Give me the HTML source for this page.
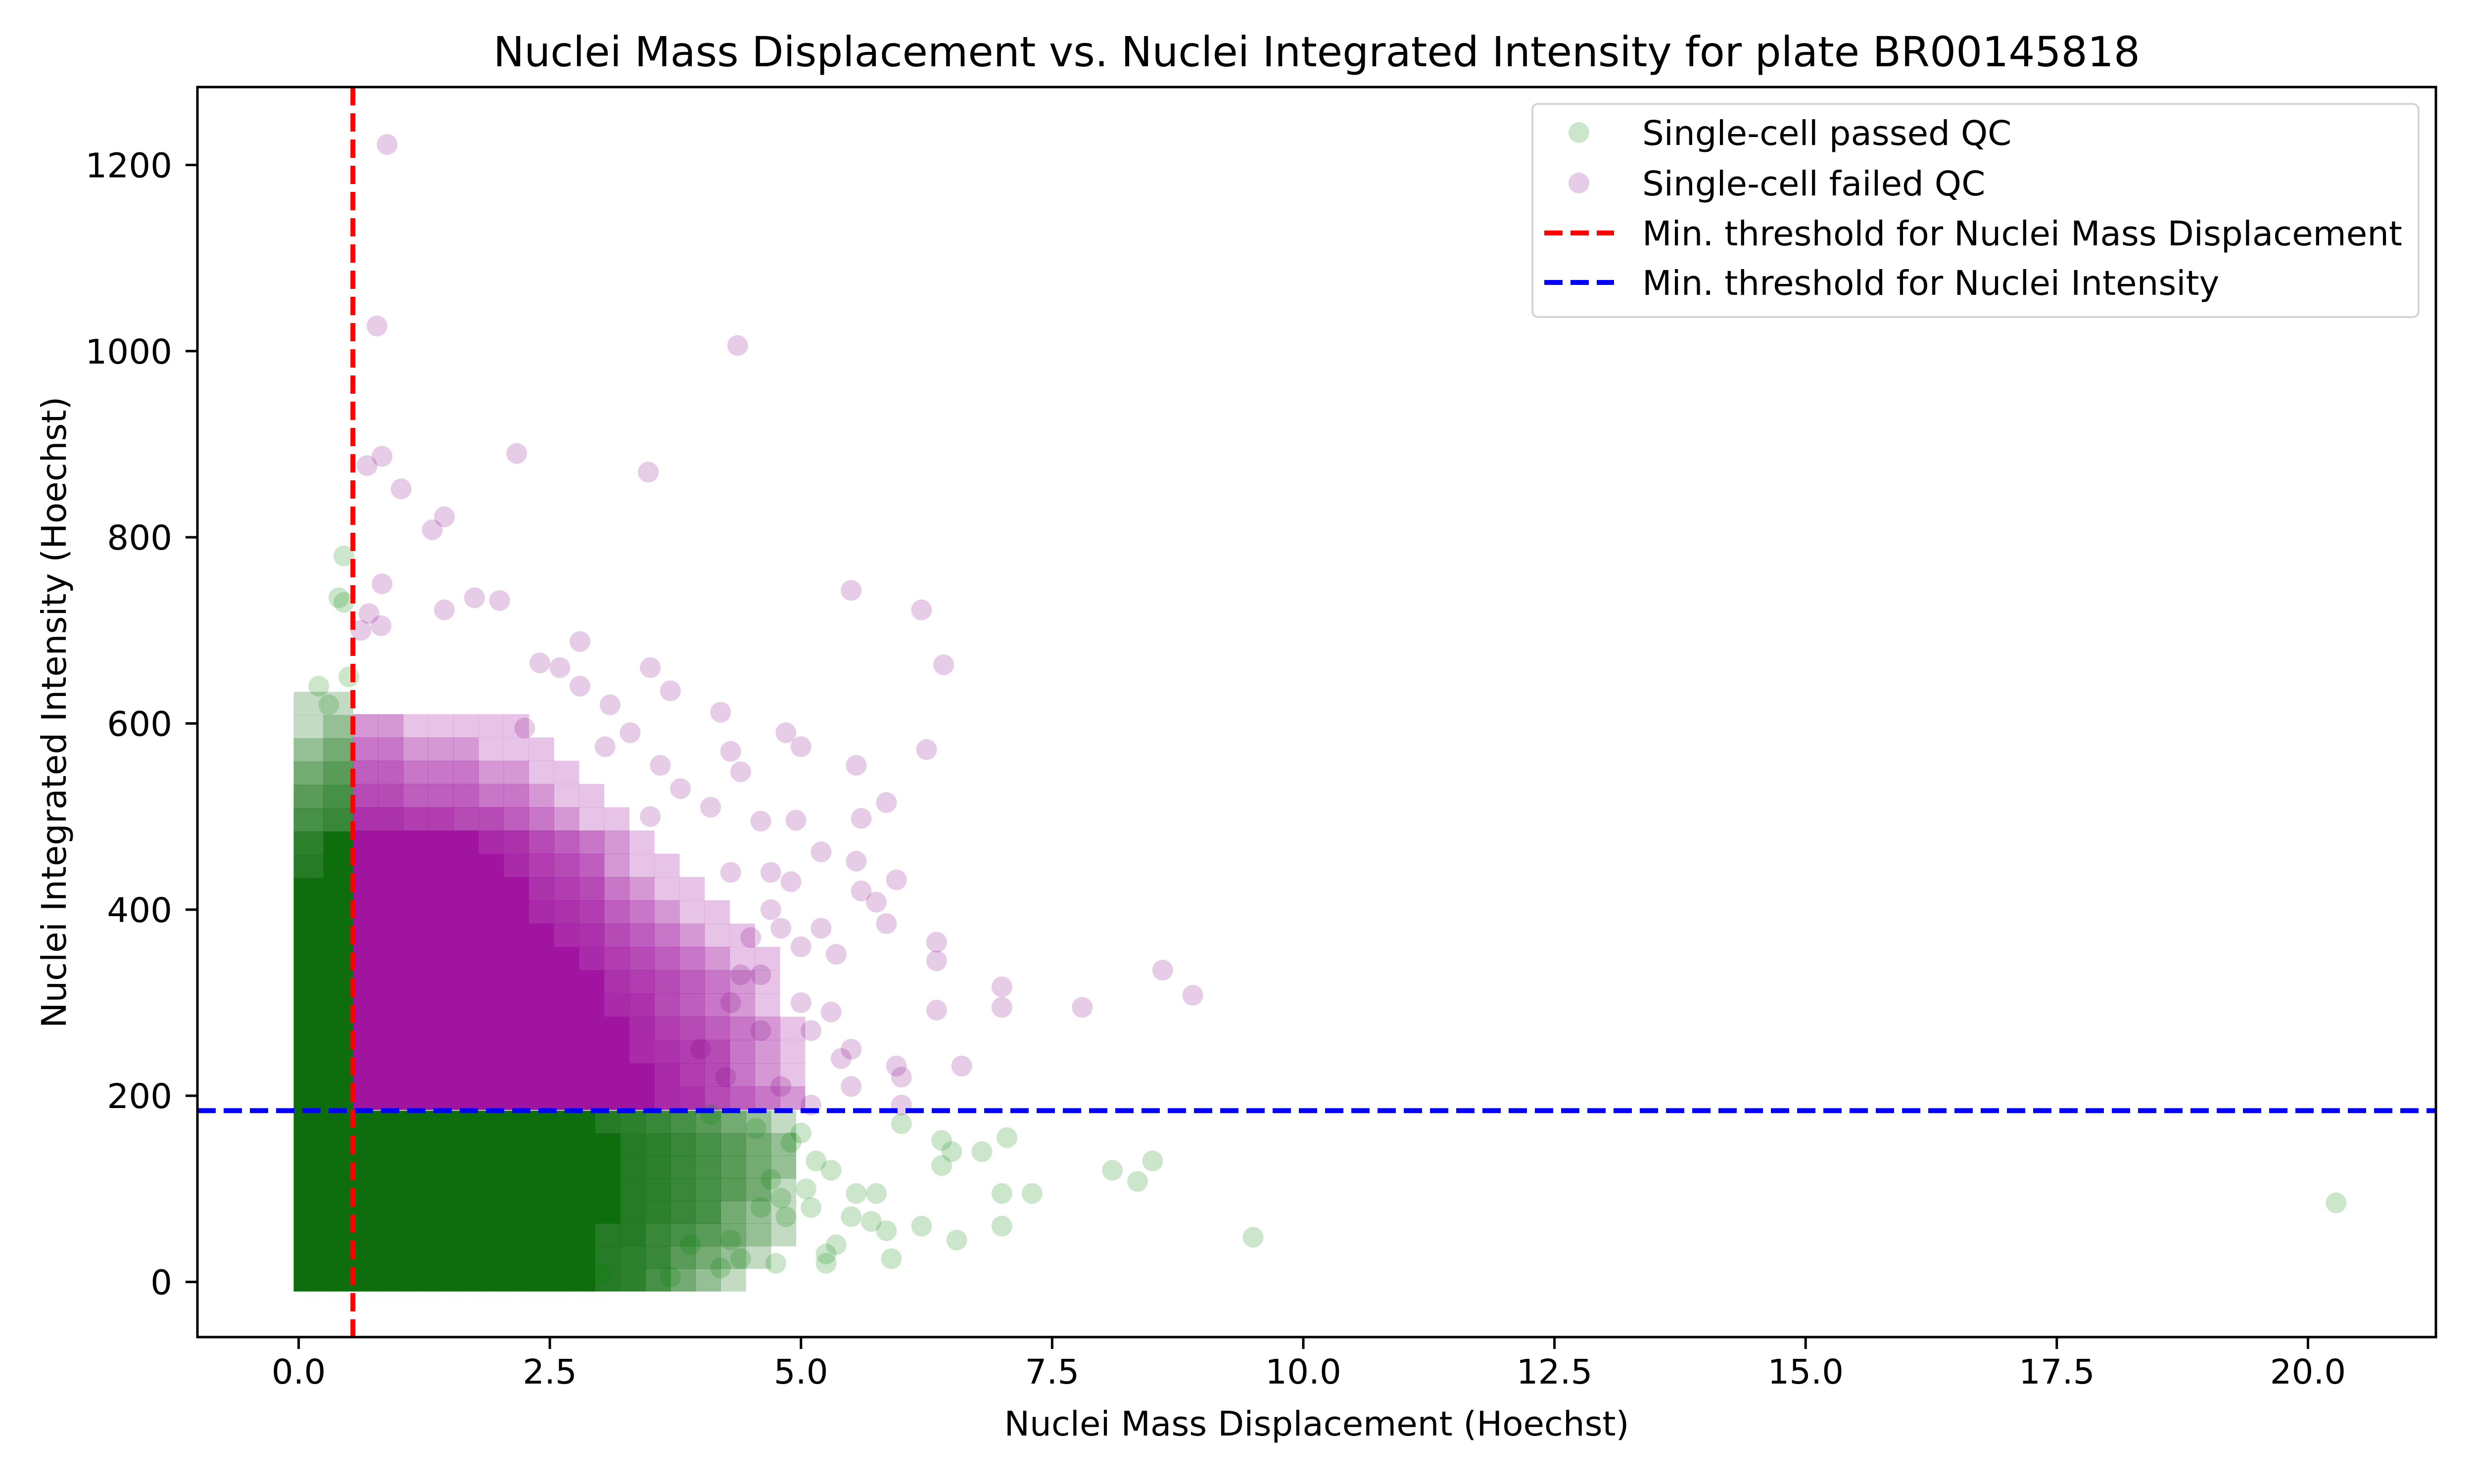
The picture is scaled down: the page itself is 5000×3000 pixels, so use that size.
<!DOCTYPE html>
<html><head><meta charset="utf-8">
<style>
html,body{margin:0;padding:0;background:#fff;}
svg{display:block;font-family:"DejaVu Sans","Liberation Sans",sans-serif;}
</style></head>
<body>
<svg id="chart" width="5000" height="3000" viewBox="0 0 5000 3000" xmlns="http://www.w3.org/2000/svg">
<rect x="0" y="0" width="5000" height="3000" fill="#fff"/>
<g id="plot"></g>
<g id="axes"></g>
</svg>
<script>
// ---- data ----
var xTicks = [0, 2.5, 5, 7.5, 10, 12.5, 15, 17.5, 20];
var xTickLabels = ["0.0","2.5","5.0","7.5","10.0","12.5","15.0","17.5","20.0"];
var yTicks = [0, 200, 400, 600, 800, 1000, 1200];
var yTickLabels = ["0","200","400","600","800","1000","1200"];
var massThreshold = 0.54;
var intensityThreshold = 184;

// density grid for the dense passed-QC core (rows bottom->top, levels 0-9)
var passGridX0 = -0.05, passGridDX = 0.25, passGridY0 = -10, passGridDY = 24.25;
var passGrid = [
"99999999999987532100",
"99999999999987643210",
"99999999999988654321",
"99999999999998765321",
"99999999999998765431",
"99999999999998765432",
"99999999999998765432",
"99999999999987654321"
];
// passed-QC strip left of mass threshold, above intensity threshold
var passStripX0 = -0.05, passStripDX = 0.295, passStripY0 = 184, passStripDY = 25;
var passStrip = [
"99","99","99","99","99","99","99","99","99","99","89","79","56","45","34","23","12","11"
];
// density grid for the dense failed-QC core
var failGridX0 = 0.54, failGridDX = 0.25, failGridY0 = 185, failGridDY = 25;
var failGrid = [
"999999999999875432",
"999999999999865321",
"999999999998765321",
"999999999998654321",
"999999999987543210",
"999999999976543210",
"999999999865432110",
"999999998754321100",
"999999987643211000",
"999999976532110000",
"999999865421100000",
"999998754321000000",
"776655432110000000",
"554443321100000000",
"443332211000000000",
"332221110000000000",
"221111100000000000"
];
// sparse individual cells
var failX = [0.88,0.78,4.37,2.17,0.83,0.68,3.48,1.02,1.45,1.33,0.83,5.5,6.2,1.45,1.75,2.0,0.7,0.82,0.62,6.42,3.5,3.7,4.2,6.25,4.85,5.0,4.3,5.55,5.85,5.6,4.95,4.6,5.2,5.55,5.95,5.6,5.75,5.85,6.35,6.35,7.0,7.0,6.35,8.6,8.9,7.8,6.6,5.95,6.0,5.5,5.3,5.4,5.0,5.2,5.35,4.9,4.7,4.7,5.0,5.1,5.5,5.1,6.0,4.8,4.6,4.4,4.5,4.8,4.3,4.1,4.4,3.8,3.6,3.3,3.5,2.8,3.1,2.6,2.4,2.8,3.05,2.25,4.6,4.3,4.0,4.25];
var failY = [1222,1027,1006,890,887,877,870,852,822,808,750,743,722,722,735,732,718,705,700,663,660,635,612,572,590,575,570,555,515,498,496,495,462,452,432,420,408,385,365,345,317,295,292,335,308,295,232,232,220,250,290,240,360,380,352,430,440,400,300,270,210,190,190,210,270,330,370,380,440,510,548,530,555,590,500,640,620,660,665,688,575,595,330,300,250,220];
var passX = [0.45,0.4,0.45,0.3,0.5,0.2,9.5,8.5,8.35,8.1,7.3,7.05,7.0,6.8,6.5,6.4,6.4,6.2,6.0,5.9,5.85,5.75,5.7,5.55,5.5,5.35,5.3,5.25,5.15,5.1,5.0,5.05,4.9,4.7,4.75,4.6,4.4,4.3,4.2,4.1,3.7,3.9,3.0,20.28,6.55,7.0,5.25,4.55,4.85,4.8];
var passY = [780,735,730,620,650,640,48,130,108,120,95,155,60,140,140,152,125,60,170,25,55,95,65,95,70,40,120,20,130,80,160,100,150,110,20,80,25,45,15,180,5,40,8,85,45,95,30,165,70,90];

// ---- scales ----
var L=399, R=4923, T=176, B=2703;
function sx(v){ return 603.6 + 203.04*v; }
function sy(v){ return 2591.5 - 1.8817*v; }
var NS="http://www.w3.org/2000/svg";
function mk(tag, attrs, parent){
  var e=document.createElementNS(NS,tag);
  for(var k in attrs) e.setAttribute(k, attrs[k]);
  parent.appendChild(e); return e;
}
var plot=document.getElementById('plot');
var axes=document.getElementById('axes');
var clip=mk('clipPath',{id:'clipA'},plot);
mk('rect',{x:L,y:T,width:R-L,height:B-T},clip);
var pg=mk('g',{'clip-path':'url(#clipA)'},plot);

function op(level){ if(level>=9) return 1; return level<=0?0:(1-Math.pow(0.8,level*1.3)); }
function drawGrid(grid,x0,dx,y0,dy,color,name){
  for(var r=0;r<grid.length;r++){
    for(var c=0;c<grid[r].length;c++){
      var lv=parseInt(grid[r][c],10);
      if(!lv) continue;
      var xa=sx(x0+c*dx), xb=sx(x0+(c+1)*dx), ya=sy(y0+(r+1)*dy), yb=sy(y0+r*dy);
      var e=mk('rect',{x:xa,y:ya,width:xb-xa+0.5,height:yb-ya+0.5,fill:color,'fill-opacity':op(lv)},pg);
      
      
    }
  }
}
drawGrid(passGrid,passGridX0,passGridDX,passGridY0,passGridDY,'#0e6e0e','passed-density-cell');
drawGrid(passStrip,passStripX0,passStripDX,passStripY0,passStripDY,'#0e6e0e','passed-density-cell');
drawGrid(failGrid,failGridX0,failGridDX,failGridY0,failGridDY,'#a014a0','failed-density-cell');

for(var i=0;i<passX.length;i++){
  var c=mk('circle',{cx:sx(passX[i]),cy:sy(passY[i]),r:21,fill:'#008000','fill-opacity':0.2},pg);
  
  
}
for(var j=0;j<failX.length;j++){
  var c2=mk('circle',{cx:sx(failX[j]),cy:sy(failY[j]),r:21,fill:'#800080','fill-opacity':0.2},pg);
  
  
}
// threshold lines
var rl=mk('line',{x1:sx(massThreshold),x2:sx(massThreshold),y1:T,y2:B,stroke:'#ff0000','stroke-width':10,'stroke-dasharray':'37 16'},pg);


var bl=mk('line',{x1:L,x2:R,y1:sy(intensityThreshold),y2:sy(intensityThreshold),stroke:'#0000ff','stroke-width':10,'stroke-dasharray':'37 16'},pg);



// axes frame
var fr=mk('rect',{x:L,y:T,width:R-L,height:B-T,fill:'none',stroke:'#000','stroke-width':5},axes);


for(var a=0;a<xTicks.length;a++){
  var xx=sx(xTicks[a]);
  var tk=mk('line',{x1:xx,x2:xx,y1:B,y2:B+24,stroke:'#000','stroke-width':5},axes);
  
  
  var tl=mk('text',{x:xx,y:2797,'font-size':69,'text-anchor':'middle',fill:'#000'},axes);
  tl.textContent=xTickLabels[a];
  
  
}
for(var b=0;b<yTicks.length;b++){
  var yy=sy(yTicks[b]);
  var tk2=mk('line',{x1:L-24,x2:L,y1:yy,y2:yy,stroke:'#000','stroke-width':5},axes);
  
  
  var tl2=mk('text',{x:348,y:yy+25,'font-size':69,'text-anchor':'end',fill:'#000'},axes);
  tl2.textContent=yTickLabels[b];
  
  
}
</script>
<svg style="position:absolute;left:0;top:0;font-family:'DejaVu Sans','Liberation Sans',sans-serif" width="5000" height="3000" viewBox="0 0 5000 3000" xmlns="http://www.w3.org/2000/svg">
<text x="2661" y="134" font-size="83.5" text-anchor="middle">Nuclei Mass Displacement vs. Nuclei Integrated Intensity for plate BR00145818</text>
<text x="2661" y="2902" font-size="69" text-anchor="middle">Nuclei Mass Displacement (Hoechst)</text>
<text x="0" y="0" font-size="69" text-anchor="middle" transform="translate(133,1440) rotate(-90)">Nuclei Integrated Intensity (Hoechst)</text>
<g>
<rect x="3097" y="210" width="1791" height="431" rx="12" fill="#fff" fill-opacity="0.8" stroke="#d5d5d5" stroke-width="4"/>
<circle cx="3191" cy="268" r="21" fill="#008000" fill-opacity="0.2"/>
<text x="3319" y="293" font-size="69">Single-cell passed QC</text>
<circle cx="3191" cy="370" r="21" fill="#800080" fill-opacity="0.2"/>
<text x="3319" y="395" font-size="69">Single-cell failed QC</text>
<line x1="3121" x2="3262" y1="471" y2="471" stroke="#ff0000" stroke-width="10" stroke-dasharray="37 16"/>
<text x="3319" y="496" font-size="69">Min. threshold for Nuclei Mass Displacement</text>
<line x1="3121" x2="3262" y1="571" y2="571" stroke="#0000ff" stroke-width="10" stroke-dasharray="37 16"/>
<text x="3319" y="596" font-size="69">Min. threshold for Nuclei Intensity</text>
</g>
</svg>
</body></html>
